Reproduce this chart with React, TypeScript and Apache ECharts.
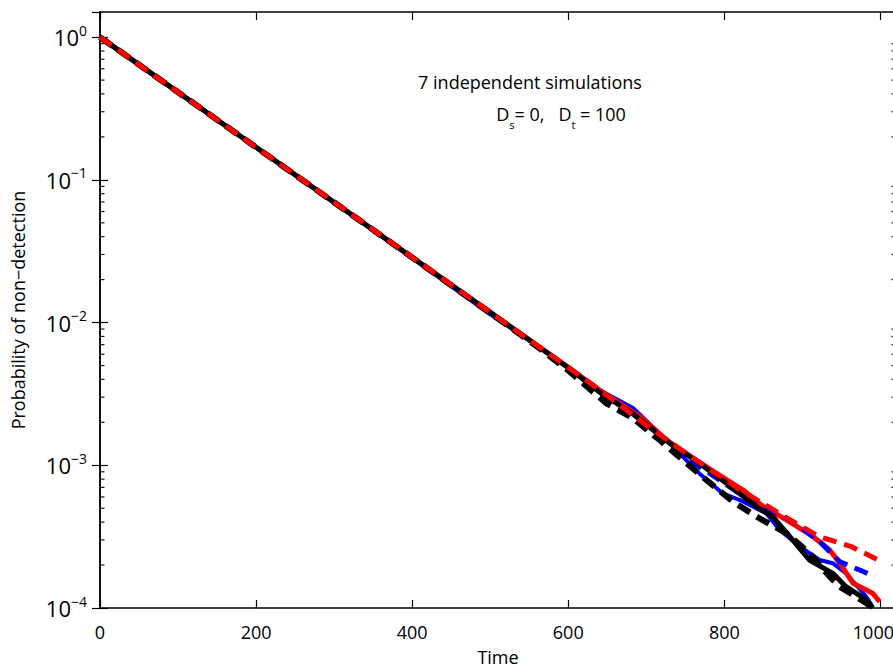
import React, { useEffect, useRef } from "react";
import * as echarts from "echarts";

const FONT = "'Open Sans', 'Noto Sans', sans-serif";

const xTickValues = [0, 200, 400, 600, 800, 1000];
const yDecades = [0.0001, 0.001, 0.01, 0.1, 1];

const timeBlueSolid = [0, 200, 400, 500, 560, 600, 640, 683, 730, 768, 798, 820, 854, 871, 897, 922, 939, 956, 982, 990];
const probBlueSolid = [1, 0.169, 0.0283, 0.0114, 0.0069, 0.00487, 0.00337, 0.00252, 0.001426, 0.000877, 0.000635, 0.000571, 0.00046, 0.000352, 0.000269, 0.000217, 0.000206, 0.000175, 0.00012, 0.000102];

const timeBlackSolid = [0, 200, 400, 500, 600, 640, 683, 730, 768, 803, 841, 862, 884, 909, 939, 956, 982, 990];
const probBlackSolid = [1, 0.169, 0.0286, 0.0118, 0.00482, 0.00326, 0.00229, 0.001426, 0.001033, 0.000746, 0.000513, 0.000437, 0.000316, 0.000217, 0.000175, 0.000141, 0.000114, 0.0001];

const timeBlueDashed = [0, 200, 400, 500, 600, 640, 700, 760, 820, 888, 922, 948, 978, 993];
const probBlueDashed = [1, 0.169, 0.0285, 0.0116, 0.00482, 0.00331, 0.00186, 0.00105, 0.000631, 0.000403, 0.000292, 0.000211, 0.00018, 0.000166];

const timeBlackDashed = [0, 200, 400, 500, 560, 600, 649, 683, 717, 747, 777, 811, 845, 880, 910, 935, 948, 982, 990];
const probBlackDashed = [1, 0.169, 0.0286, 0.0117, 0.0068, 0.00462, 0.002716, 0.002133, 0.001503, 0.001089, 0.000789, 0.000556, 0.000425, 0.000333, 0.00024, 0.000166, 0.000141, 0.000108, 0.0001];

const timeRedSolid = [0, 200, 400, 500, 600, 640, 692, 726, 764, 790, 824, 850, 880, 914, 935, 948, 965, 990, 999];
const probRedSolid = [1, 0.169, 0.0287, 0.0118, 0.00485, 0.003365, 0.002188, 0.001503, 0.001089, 0.000877, 0.000671, 0.000513, 0.000413, 0.000316, 0.000255, 0.000206, 0.000149, 0.000127, 0.000111];

const timeRedDashed = [0, 200, 400, 500, 600, 640, 700, 760, 820, 888, 922, 963, 996, 1003];
const probRedDashed = [1, 0.169, 0.0287, 0.0118, 0.00484, 0.00339, 0.00191, 0.00112, 0.000676, 0.000403, 0.000316, 0.000269, 0.000219, 0.000209];

const minorTickMultipliers = [2, 3, 4, 5, 6, 7, 8, 9];

const X_MAX = 1020;
const Y_MIN = 0.0001;
const Y_MAX = 1.5;

function pairs(t: number[], p: number[]) {
  return t.map((v, i) => [v, p[i]]);
}

export default function App() {
  const ref = useRef<HTMLDivElement>(null);

  useEffect(() => {
    if (!ref.current) return;
    const chart = echarts.init(ref.current, null, { renderer: "svg" });

    const minorData: number[][] = [];
    for (let d = 0; d < yDecades.length - 1; d++) {
      for (const m of minorTickMultipliers) {
        minorData.push([0, m * yDecades[d]]);
        minorData.push([1, m * yDecades[d]]);
      }
    }

    const lineSeries = (
      name: string,
      t: number[],
      p: number[],
      color: string,
      width: number,
      dashed: boolean
    ) => ({
      type: "line",
      name,
      data: pairs(t, p),
      showSymbol: false,
      symbol: "none",
      lineStyle: {
        color,
        width,
        type: dashed ? [14, 8] : "solid",
        cap: "butt",
        join: "round",
      },
      z: 3,
    });

    const supLabel = (v: number) => {
      const e = Math.round(Math.log10(v));
      const s = e < 0 ? "\u2212" + -e : String(e);
      return "{b|10}{s|" + s + "}";
    };

    const xLabel = (v: number) => {
      if (!xTickValues.includes(v)) return "";
      if (v === xTickValues[xTickValues.length - 1]) return "{e|" + v + "}";
      return String(v);
    };

    const option: any = {
      animation: false,
      grid: {
        left: 100,
        top: 12,
        width: 796,
        height: 596,
        containLabel: false,
        outerBoundsMode: "none",
      },
      xAxis: [
        {
          type: "value",
          min: 0,
          max: X_MAX,
          interval: 200,
          name: "Time",
          nameLocation: "middle",
          nameGap: 40,
          nameTextStyle: { fontFamily: FONT, fontSize: 18, color: "#000" },
          axisLine: { show: true, lineStyle: { color: "#000", width: 1.5 } },
          axisTick: { show: true, inside: true, length: 8, lineStyle: { color: "#000", width: 1.2 } },
          axisLabel: {
            show: true,
            margin: 15,
            fontFamily: FONT,
            fontSize: 18,
            color: "#000",
            showMaxLabel: false,
            hideOverlap: false,
            formatter: xLabel,
            rich: {
              e: { fontFamily: FONT, fontSize: 18, color: "#000", padding: [0, 14, 0, 0] },
            },
          },
          splitLine: { show: false },
        },
        {
          type: "value",
          position: "top",
          min: 0,
          max: X_MAX,
          interval: 200,
          axisLine: { show: true, lineStyle: { color: "#000", width: 1.5 } },
          axisTick: { show: true, inside: true, length: 8, lineStyle: { color: "#000", width: 1.2 } },
          axisLabel: { show: false },
          splitLine: { show: false },
        },
      ],
      yAxis: [
        {
          type: "log",
          logBase: 10,
          min: Y_MIN,
          max: Y_MAX,
          name: "Probability of non\u2212detection",
          nameLocation: "middle",
          nameGap: 73,
          nameRotate: 90,
          nameTextStyle: { fontFamily: FONT, fontSize: 18, color: "#000" },
          axisLine: { show: true, lineStyle: { color: "#000", width: 1.5 } },
          axisTick: { show: true, inside: true, length: 8, lineStyle: { color: "#000", width: 1.2 } },
          axisLabel: {
            show: true,
            margin: 13,
            showMaxLabel: false,
            formatter: supLabel,
            rich: {
              b: { fontFamily: FONT, fontSize: 22, color: "#000", lineHeight: 28, verticalAlign: "middle" },
              s: { fontFamily: FONT, fontSize: 14, color: "#000", lineHeight: 22, verticalAlign: "top" },
            },
          },
          splitLine: { show: false },
        },
        {
          type: "log",
          logBase: 10,
          min: Y_MIN,
          max: Y_MAX,
          position: "right",
          axisLine: { show: true, lineStyle: { color: "#000", width: 1.5 } },
          axisTick: { show: true, inside: true, length: 8, lineStyle: { color: "#000", width: 1.2 } },
          axisLabel: { show: false },
          splitLine: { show: false },
        },
      ],
      graphic: [
        {
          type: "text",
          x: 530,
          y: 82,
          style: {
            text: "7 independent simulations",
            fontFamily: FONT,
            fontSize: 18,
            fill: "#000",
            align: "center",
            verticalAlign: "middle",
          },
        },
        {
          type: "text",
          x: 561,
          y: 117,
          style: {
            text: "{n|D}{u|s}{n|= 0,   D}{u|t}{n| = 100}",
            align: "center",
            verticalAlign: "middle",
            rich: {
              n: { fontFamily: FONT, fontSize: 18, fill: "#000", lineHeight: 24, verticalAlign: "top" },
              u: { fontFamily: FONT, fontSize: 11, fill: "#000", lineHeight: 11, padding: [14, 0, 0, 0], verticalAlign: "top" },
            },
          },
        },
      ],
      series: [
        lineSeries("Simulation 1", timeBlueSolid, probBlueSolid, "#0000ff", 4, false),
        lineSeries("Simulation 2", timeRedSolid, probRedSolid, "#ff0000", 5, false),
        lineSeries("Simulation 3", timeBlueDashed, probBlueDashed, "#0000ff", 5, true),
        lineSeries("Simulation 4", timeBlackSolid, probBlackSolid, "#000000", 5, false),
        lineSeries("Simulation 5", timeBlackDashed, probBlackDashed, "#000000", 6, true),
        lineSeries("Simulation 6", timeRedDashed, probRedDashed, "#ff0000", 5, true),
        {
          type: "custom",
          name: "minor ticks",
          data: minorData,
          silent: true,
          z: 5,
          renderItem: (params: any, api: any) => {
            const side = api.value(0);
            const v = api.value(1);
            const p = api.coord([side === 0 ? 0 : X_MAX, v]);
            const len = 4.5;
            return {
              type: "line",
              shape: { x1: p[0], y1: p[1], x2: p[0] + (side === 0 ? len : -len), y2: p[1] },
              style: { stroke: "#000", lineWidth: 1.1 },
            };
          },
        },
      ],
    };

    chart.setOption(option);
    return () => chart.dispose();
  }, []);

  return (
    <div
      ref={ref}
      style={{ position: "fixed", left: 0, top: 0, width: 900, height: 670, background: "#fff" }}
    />
  );
}
